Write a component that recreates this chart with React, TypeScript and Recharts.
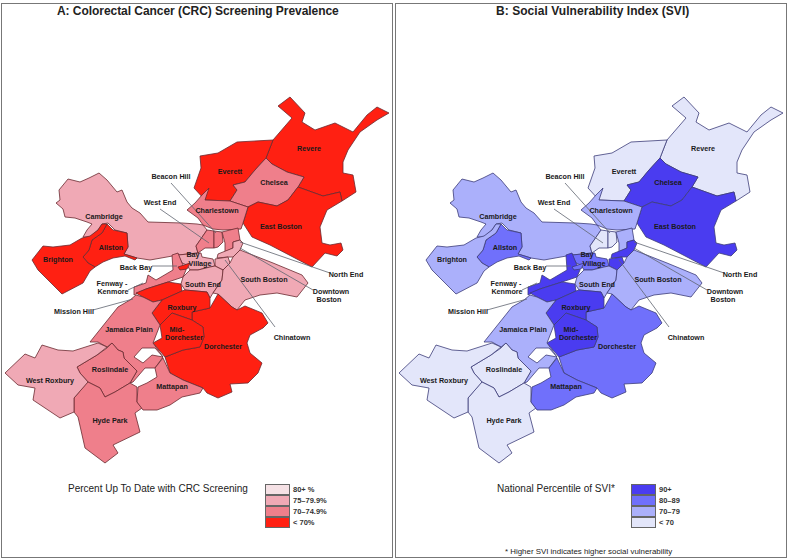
import React from 'react';
import { ScatterChart, Scatter, XAxis, YAxis } from 'recharts';

type P = [number, number];

// Neighbourhood outlines, in map units
const cambridge: P[] = [[56,203],[60,200],[59,190],[68,179],[80,182],[89,178],[99,173],[107,180],[117,192],[122,190],[127,202],[132,208],[140,213],[148,222],[182,223],[197,224],[203,225],[207,230],[196,246],[198,253],[178,255],[150,260],[137,258],[124,254],[128,247],[127,233],[115,230],[108,223],[102,224],[98,230],[90,237],[83,237],[87,230],[92,224],[87,222],[75,218],[65,217],[63,209]];
const allston: P[] = [[107,224],[113,230],[127,233],[128,247],[124,254],[137,258],[135,260],[125,256],[113,258],[103,262],[95,267],[88,263],[83,257],[89,250],[92,240],[102,233]];
const brighton: P[] = [[32,260],[43,246],[53,247],[70,245],[82,238],[90,236],[98,230],[102,224],[107,224],[102,233],[92,240],[89,250],[83,257],[88,263],[95,267],[90,271],[83,283],[62,294],[45,277],[38,270]];
const revere: P[] = [[278,106],[290,97],[305,113],[302,122],[315,130],[335,123],[353,132],[367,115],[377,107],[389,113],[377,120],[360,132],[348,150],[343,162],[343,173],[353,175],[356,192],[342,201],[340,192],[323,196],[298,187],[304,177],[287,172],[272,164],[266,158],[273,140],[292,118]];
const everett: P[] = [[200,156],[218,153],[237,142],[273,140],[266,158],[255,170],[245,182],[233,185],[237,190],[230,201],[205,200],[194,188],[201,168]];
const chelsea: P[] = [[266,158],[272,164],[287,172],[304,177],[298,187],[288,200],[277,206],[258,202],[248,207],[230,201],[237,190],[233,185],[245,182],[255,170]];
const eastBoston: P[] = [[258,202],[277,206],[288,200],[298,187],[323,196],[340,192],[342,201],[327,210],[320,227],[322,243],[330,245],[341,243],[343,250],[337,256],[325,253],[312,267],[293,257],[270,245],[252,237],[243,223],[248,207]];
const charlestown: P[] = [[209,188],[205,200],[230,201],[248,207],[243,223],[241,229],[223,230],[213,229],[203,225],[198,218],[187,210],[195,203],[202,195]];
const westEnd: P[] = [[196,246],[207,230],[214,231],[214,248],[205,248],[198,253]];
const beaconHill: P[] = [[214,231],[222,232],[223,242],[218,247],[214,248]];
const northEnd: P[] = [[222,232],[238,228],[240,240],[233,242],[233,248],[225,252],[225,243]];
const downtown: P[] = [[218,254],[233,248],[233,242],[240,240],[243,243],[240,250],[233,257],[228,257],[217,258]];
const chinatown: P[] = [[215,259],[228,257],[230,263],[223,270],[215,266]];
const bayVillage: P[] = [[178,255],[198,253],[201,253],[202,257],[213,259],[215,266],[210,267],[198,270],[190,270],[187,265],[182,263]];
const backBay: P[] = [[178,267],[190,263],[187,269],[180,270]];
const fenway: P[] = [[172,255],[178,253],[182,263],[186,270],[183,277],[168,282],[146,289],[134,295],[134,287],[146,283],[148,275],[156,280],[173,270]];
const missionHill: P[] = [[136,293],[146,289],[168,282],[181,284],[182,291],[162,300],[153,302],[143,297]];
const southEnd: P[] = [[183,277],[190,270],[198,270],[210,267],[215,266],[223,270],[222,280],[213,293],[210,298],[207,292],[185,290],[181,284]];
const southBoston: P[] = [[223,270],[230,263],[233,257],[240,250],[245,252],[273,263],[302,275],[308,283],[297,297],[277,293],[260,295],[245,300],[237,310],[232,307],[218,294],[213,293],[222,280]];
const dorchester: P[] = [[192,312],[210,308],[218,294],[232,307],[237,310],[245,306],[262,313],[268,323],[263,328],[250,335],[247,343],[250,353],[262,363],[258,373],[248,383],[230,384],[232,392],[218,398],[207,393],[203,388],[183,380],[170,373],[165,357],[183,350],[200,347],[204,337],[203,327],[192,320]];
const roxbury: P[] = [[162,300],[182,291],[185,290],[207,292],[210,298],[210,308],[192,312],[192,320],[172,313],[160,325],[152,313]];
const midDorchester: P[] = [[172,313],[192,320],[203,327],[204,337],[200,347],[183,350],[165,357],[153,343],[162,338],[160,325]];
const jamaicaPlain: P[] = [[90,342],[118,307],[130,300],[136,295],[143,297],[153,302],[162,300],[152,313],[160,325],[153,343],[163,357],[155,368],[145,368],[133,382],[130,383],[137,371],[133,367],[124,358],[123,352],[118,350],[112,343],[107,347],[98,342]];
const roslindale: P[] = [[77,367],[97,355],[107,348],[112,343],[118,350],[123,352],[124,358],[133,367],[137,371],[130,383],[115,392],[105,397],[100,388],[88,382],[80,373]];
const hydePark: P[] = [[74,398],[85,385],[88,382],[100,388],[105,397],[115,392],[130,383],[137,387],[137,402],[142,408],[135,413],[140,432],[113,445],[118,453],[105,463],[85,448],[78,417],[74,412]];
const westRoxbury: P[] = [[5,373],[25,354],[35,358],[42,345],[58,350],[73,351],[98,343],[107,347],[97,355],[77,367],[80,373],[88,382],[74,398],[74,412],[60,418],[33,400],[35,388],[18,385]];
const mattapan: P[] = [[138,387],[147,383],[157,377],[155,368],[163,358],[170,373],[183,380],[203,388],[200,393],[182,397],[170,405],[157,410],[143,410],[137,402]];
const pond: P[] = [[134,357],[142,348],[155,348],[163,357],[152,355],[143,363]];

const outlines: P[][] = [cambridge, allston, brighton, revere, everett, chelsea, eastBoston, charlestown, westEnd, beaconHill, northEnd, downtown, chinatown, bayVillage, fenway, backBay, missionHill, southEnd, southBoston, dorchester, roxbury, midDorchester, jamaicaPlain, roslindale, hydePark, westRoxbury, mattapan];

// Class of each outline, same order. Index into the legend list
const crcClass = [1, 3, 3, 3, 3, 2, 3, 2, 2, 2, 2, 1, 1, 1, 2, 3, 3, 1, 1, 3, 3, 3, 2, 2, 2, 1, 2];
const sviClass = [2, 1, 2, 3, 3, 0, 0, 2, 3, 3, 2, 0, 0, 1, 0, 1, 0, 2, 2, 1, 0, 0, 2, 3, 3, 3, 1];

const crcColors = ['#f5e1e5', '#f0a9b5', '#ef7f8b', '#ff2012'];
const sviColors = ['#4a3cf0', '#7070fb', '#abb0fb', '#e3e6fa'];
const crcLegend = ['80+ %', '75\u201379.9%', '70\u201374.9%', '< 70%'];
const sviLegend = ['90+', '80\u201389', '70\u201379', '< 70'];

const leaders: P[][] = [
  [[171, 183], [216, 233]],
  [[160, 209], [209, 243]],
  [[330, 273], [240, 242]],
  [[313, 290], [240, 248]],
  [[275, 327], [225, 260]],
  [[152, 266], [177, 266]],
  [[128, 290], [143, 283]],
  [[93, 310], [133, 299]],
];

const labels: { name: string; x: number; y: number }[] = [
  { name: 'Revere', x: 309, y: 148 }, { name: 'Everett', x: 230, y: 171 }, { name: 'Chelsea', x: 274, y: 182 },
  { name: 'Charlestown', x: 217, y: 210 }, { name: 'East Boston', x: 281, y: 226 }, { name: 'Beacon Hill', x: 171, y: 176 },
  { name: 'West End', x: 160, y: 202 }, { name: 'Cambridge', x: 104, y: 216 }, { name: 'Allston', x: 111, y: 247 },
  { name: 'Brighton', x: 58, y: 259 }, { name: 'Back Bay', x: 136, y: 267 }, { name: 'Bay', x: 193, y: 254 },
  { name: 'Village', x: 200, y: 263 }, { name: 'South End', x: 203, y: 284 }, { name: 'South Boston', x: 264, y: 279 },
  { name: 'North End', x: 346, y: 274 }, { name: 'Downtown', x: 331, y: 291 }, { name: 'Boston', x: 329, y: 299 },
  { name: 'Chinatown', x: 292, y: 337 }, { name: 'Roxbury', x: 182, y: 307 }, { name: 'Mid-', x: 177, y: 329 },
  { name: 'Dorchester', x: 184, y: 337 }, { name: 'Dorchester', x: 223, y: 346 }, { name: 'Mattapan', x: 172, y: 386 },
  { name: 'Fenway -', x: 112, y: 283 }, { name: 'Kenmore', x: 113, y: 291 }, { name: 'Mission Hill', x: 74, y: 311 },
  { name: 'Jamaica Plain', x: 129, y: 329 }, { name: 'Roslindale', x: 110, y: 369 }, { name: 'West Roxbury', x: 50, y: 380 },
  { name: 'Hyde Park', x: 110, y: 420 },
];

const FONT = '"Liberation Sans", Arial, sans-serif';
const toPts = (o: P[]) => o.map(([x, y]) => ({ x, y }));
const noDot = () => null;
const labelShape = (p: any) => (
  <text x={p.cx} y={p.cy} textAnchor="middle" dominantBaseline="central" fontFamily={FONT} fontSize={7.2} fontWeight={700} fill="#1a1a1a">
    {p.payload.name}
  </text>
);

function MapPanel({ classes, colors, edge }: { classes: number[]; colors: string[]; edge: string }) {
  return (
    <ScatterChart width={394} height={558} margin={{ top: 0, right: 0, bottom: 0, left: 0 }}>
      <XAxis type="number" dataKey="x" domain={[0, 394]} hide />
      <YAxis type="number" dataKey="y" domain={[0, 558]} reversed hide />
      {outlines.map((o, i) => (
        <Scatter
          key={i}
          data={toPts(o)}
          isAnimationActive={false}
          shape={noDot}
          line={{ fill: colors[classes[i]], stroke: edge, strokeWidth: 0.8 }}
          lineJointType="linearClosed"
        />
      ))}
      <Scatter
        data={toPts(pond)}
        isAnimationActive={false}
        shape={noDot}
        line={{ fill: '#ffffff', stroke: edge, strokeWidth: 0.8 }}
        lineJointType="linearClosed"
      />
      {leaders.map((o, i) => (
        <Scatter
          key={'l' + i}
          data={toPts(o)}
          isAnimationActive={false}
          shape={noDot}
          line={{ stroke: '#5f6570', strokeWidth: 0.8, fill: 'none' }}
          lineJointType="linear"
        />
      ))}
      <Scatter data={labels} isAnimationActive={false} shape={labelShape} />
    </ScatterChart>
  );
}

const txt = (left: number, top: number, style: React.CSSProperties = {}): React.CSSProperties => ({
  position: 'absolute', left, top, fontFamily: FONT, whiteSpace: 'nowrap', color: '#222', ...style,
});

function Legend({ left, entries, colors }: { left: number; entries: string[]; colors: string[] }) {
  return (
    <>
      {entries.map((e, i) => (
        <React.Fragment key={e}>
          <div style={{ position: 'absolute', left, top: 484 + i * 11, width: 23, height: 9, background: colors[i], border: '1px solid #666' }} />
          <div style={txt(left + 28, 485 + i * 11, { fontSize: 7.5, lineHeight: '10px', fontWeight: 700, color: '#333' })}>{e}</div>
        </React.Fragment>
      ))}
    </>
  );
}

export default function App() {
  return (
    <div style={{ position: 'absolute', left: 0, top: 0, width: 787, height: 558, background: '#fff', overflow: 'hidden' }}>
      <div style={{ position: 'absolute', left: 1, top: 3, width: 390, height: 553, border: '1px solid #777' }} />
      <div style={{ position: 'absolute', left: 395, top: 3, width: 390, height: 553, border: '1px solid #777' }} />
      <div style={{ position: 'absolute', left: 0, top: 0 }}><MapPanel classes={crcClass} colors={crcColors} edge="#6a2a30" /></div>
      <div style={{ position: 'absolute', left: 394, top: 0 }}><MapPanel classes={sviClass} colors={sviColors} edge="#3c3c78" /></div>
      <div style={txt(57, 4, { fontSize: 12, fontWeight: 700, lineHeight: '15px', letterSpacing: -0.05 })}>A: Colorectal Cancer (CRC) Screening Prevalence</div>
      <div style={txt(496, 4, { fontSize: 12, fontWeight: 700, lineHeight: '15px', letterSpacing: 0.05 })}>B: Social Vulnerability Index (SVI)</div>
      <div style={txt(68, 482, { fontSize: 10, lineHeight: '14px' })}>Percent Up To Date with CRC Screening</div>
      <div style={txt(497, 482, { fontSize: 10, lineHeight: '14px' })}>National Percentile of SVI*</div>
      <div style={txt(505, 546, { fontSize: 7.9, lineHeight: '11px' })}>* Higher SVI indicates higher social vulnerability</div>
      <Legend left={265} entries={crcLegend} colors={crcColors} />
      <Legend left={631} entries={sviLegend} colors={sviColors} />
    </div>
  );
}
